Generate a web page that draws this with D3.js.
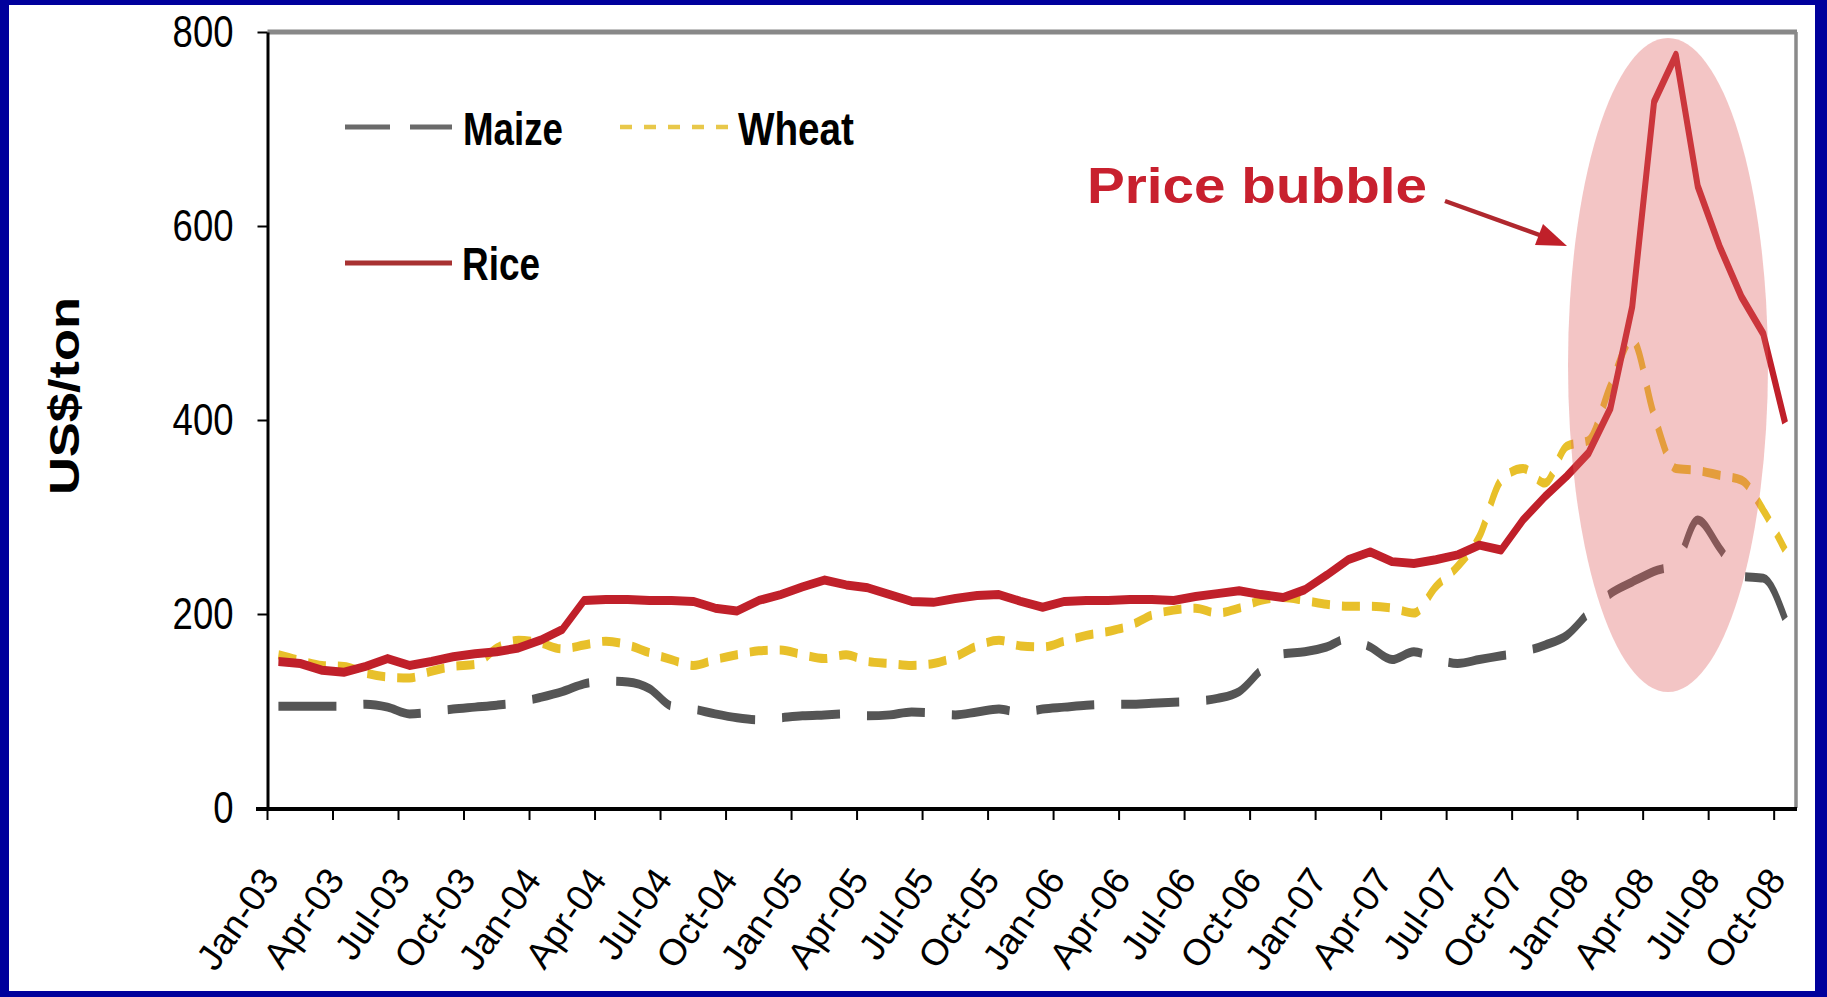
<!DOCTYPE html>
<html><head><meta charset="utf-8">
<script src="https://cdn.jsdelivr.net/npm/d3@7"></script>
<style>html,body{margin:0;padding:0;background:#00009c;} svg{display:block;}</style>
</head><body><svg id="chart" width="1827" height="997"></svg>
<script>
const categories = ["Jan-03","Feb-03","Mar-03","Apr-03","May-03","Jun-03","Jul-03","Aug-03","Sep-03","Oct-03","Nov-03","Dec-03",
"Jan-04","Feb-04","Mar-04","Apr-04","May-04","Jun-04","Jul-04","Aug-04","Sep-04","Oct-04","Nov-04","Dec-04",
"Jan-05","Feb-05","Mar-05","Apr-05","May-05","Jun-05","Jul-05","Aug-05","Sep-05","Oct-05","Nov-05","Dec-05",
"Jan-06","Feb-06","Mar-06","Apr-06","May-06","Jun-06","Jul-06","Aug-06","Sep-06","Oct-06","Nov-06","Dec-06",
"Jan-07","Feb-07","Mar-07","Apr-07","May-07","Jun-07","Jul-07","Aug-07","Sep-07","Oct-07","Nov-07","Dec-07",
"Jan-08","Feb-08","Mar-08","Apr-08","May-08","Jun-08","Jul-08","Aug-08","Sep-08","Oct-08"];

const rice = [151,149,142,140,146,154,147,151,156,159,161,165,
173,184,214,215,215,214,214,213,206,203,214,220,
228,235,230,227,220,213,212,216,219,220,213,207,
213,214,214,215,215,214,218,221,224,220,217,225,
240,256,264,254,252,256,261,271,266,297,321,342,
366,412,517,728,776,641,579,527,489,397];

const wheat = [158,152,147,146,139,135,134,141,146,148,165,173,
170,164,168,172,168,160,153,147,153,158,162,163,
158,154,158,151,149,147,149,156,167,173,167,166,
172,178,182,188,199,204,206,201,206,214,217,214,
210,208,208,206,201,228,249,280,338,350,335,373,
379,435,483,405,350,348,343,338,307,266];

const maize = [105,105,105,105,107,104,97,99,102,104,106,109,
114,120,128,131,130,123,105,102,97,93,91,93,
95,96,97,95,96,99,98,96,99,102,98,102,
104,106,107,107,108,109,110,113,120,142,159,161,
166,175,166,153,161,154,149,153,157,161,168,178,
201,221,233,244,252,297,268,239,237,195];

const yTicks = [0,200,400,600,800];
const seriesNames = ["Maize","Wheat","Rice"];
const FONT = "'Liberation Sans', Arial, sans-serif";

const W=1827,H=997;
const svg=d3.select("#chart");
svg.append("rect").attr("width",W).attr("height",H).attr("fill","#00009c");
svg.append("rect").attr("x",9).attr("y",5).attr("width",1806).attr("height",986).attr("fill","#ffffff");

const L=267.5,R=1796,T=32,B=808;
const x=d3.scaleBand().domain(categories).range([L,R]).paddingInner(0).paddingOuter(0);
const bw=x.bandwidth();
const y=d3.scaleLinear().domain([0,800]).range([B,T]);
const S=1.5;
const yl=d3.scaleLinear().domain([0,800]).range([(B-T)/S,0]);

// borders
svg.append("line").attr("x1",L).attr("x2",R+1).attr("y1",T).attr("y2",T).attr("stroke","#888").attr("stroke-width",5);
svg.append("line").attr("x1",R).attr("x2",R).attr("y1",T).attr("y2",B).attr("stroke","#8a8a8a").attr("stroke-width",3.5);

// lines (drawn in a vertically stretched frame)
const gl=svg.append("g").attr("transform",`translate(0,${T}) scale(1,${S})`);
const mk=(arr)=>categories.map((c,i)=>({c,v:arr[i]}));
const lineSmooth=d3.line().x(d=>x(d.c)+bw/2).y(d=>yl(d.v)).curve(d3.curveMonotoneX);
const lineStraight=d3.line().x(d=>x(d.c)+bw/2).y(d=>yl(d.v));
gl.append("path").datum(mk(maize)).attr("d",lineSmooth).attr("fill","none").attr("stroke","#555555").attr("stroke-width",6).attr("stroke-dasharray","58,27");
gl.append("path").datum(mk(wheat)).attr("d",lineSmooth).attr("fill","none").attr("stroke","#e8c02a").attr("stroke-width",6).attr("stroke-dasharray","18,12");
gl.append("path").datum(mk(rice)).attr("d",lineStraight).attr("fill","none").attr("stroke","#c0202a").attr("stroke-width",6).attr("stroke-linejoin","round");

// bubble
svg.append("ellipse").attr("cx",1668).attr("cy",365).attr("rx",100).attr("ry",327).attr("fill","rgb(222,95,95)").attr("opacity",0.36);

// y axis
const gy=svg.append("g").attr("transform",`translate(${L},0)`).call(d3.axisLeft(y).tickValues(yTicks).tickSize(10).tickPadding(24).tickSizeOuter(0));
gy.select(".domain").attr("stroke","#000").attr("stroke-width",3);
gy.selectAll(".tick line").attr("stroke","#000").attr("stroke-width",2);
gy.selectAll(".tick text").attr("font-family",FONT).attr("font-size",44).attr("fill","#000")
  .attr("textLength",d=>String(d).length*20.3).attr("lengthAdjust","spacingAndGlyphs");

// x axis
const xt=categories.filter((d,i)=>i%3===0);
const gx=svg.append("g").attr("transform",`translate(0,${B})`).call(d3.axisBottom(x).tickValues(xt).tickSize(12).tickSizeOuter(0));
gx.select(".domain").remove();
gx.selectAll(".tick line").attr("x1",-bw/2).attr("x2",-bw/2).attr("stroke","#000").attr("stroke-width",2);
gx.selectAll(".tick text").attr("y",0).attr("dy",0).attr("text-anchor","end")
  .attr("transform","translate(2,72) rotate(-55)").attr("font-family",FONT).attr("font-size",37).attr("fill","#000");
svg.append("line").attr("x1",256).attr("x2",R+1).attr("y1",B+1).attr("y2",B+1).attr("stroke","#000").attr("stroke-width",4);

// y title
svg.append("text").attr("transform","translate(79,396) rotate(-90)").attr("text-anchor","middle")
  .attr("font-family",FONT).attr("font-weight","bold").attr("font-size",42).attr("fill","#000")
  .attr("textLength",198).attr("lengthAdjust","spacingAndGlyphs").text("US$/ton");

// legend
const lg=svg.append("g");
lg.append("line").attr("x1",345).attr("x2",390).attr("y1",127).attr("y2",127).attr("stroke","#6a6a6a").attr("stroke-width",5);
lg.append("line").attr("x1",410).attr("x2",452).attr("y1",127).attr("y2",127).attr("stroke","#6a6a6a").attr("stroke-width",5);
lg.append("text").attr("x",463).attr("y",145).attr("font-family",FONT).attr("font-weight","bold").attr("font-size",46)
  .attr("textLength",100).attr("lengthAdjust","spacingAndGlyphs").text(seriesNames[0]);
lg.append("line").attr("x1",620).attr("x2",730).attr("y1",127).attr("y2",127).attr("stroke","#e8c84a").attr("stroke-width",4.5).attr("stroke-dasharray","12,12");
lg.append("text").attr("x",738).attr("y",145).attr("font-family",FONT).attr("font-weight","bold").attr("font-size",46)
  .attr("textLength",116).attr("lengthAdjust","spacingAndGlyphs").text(seriesNames[1]);
lg.append("line").attr("x1",345).attr("x2",452).attr("y1",263).attr("y2",263).attr("stroke","#a83232").attr("stroke-width",5);
lg.append("text").attr("x",462).attr("y",280).attr("font-family",FONT).attr("font-weight","bold").attr("font-size",46)
  .attr("textLength",78).attr("lengthAdjust","spacingAndGlyphs").text(seriesNames[2]);

// annotation
svg.append("text").attr("x",1087).attr("y",203).attr("font-family",FONT).attr("font-weight","bold").attr("font-size",50)
  .attr("fill","#c8202e").attr("textLength",340).attr("lengthAdjust","spacingAndGlyphs").text("Price bubble");
svg.append("line").attr("x1",1445).attr("y1",201).attr("x2",1545).attr("y2",237).attr("stroke","#b0282e").attr("stroke-width",4.5);
svg.append("path").attr("d","M1567,246 L1535,245 L1543,224 Z").attr("fill","#c0202a");
</script></body></html>
